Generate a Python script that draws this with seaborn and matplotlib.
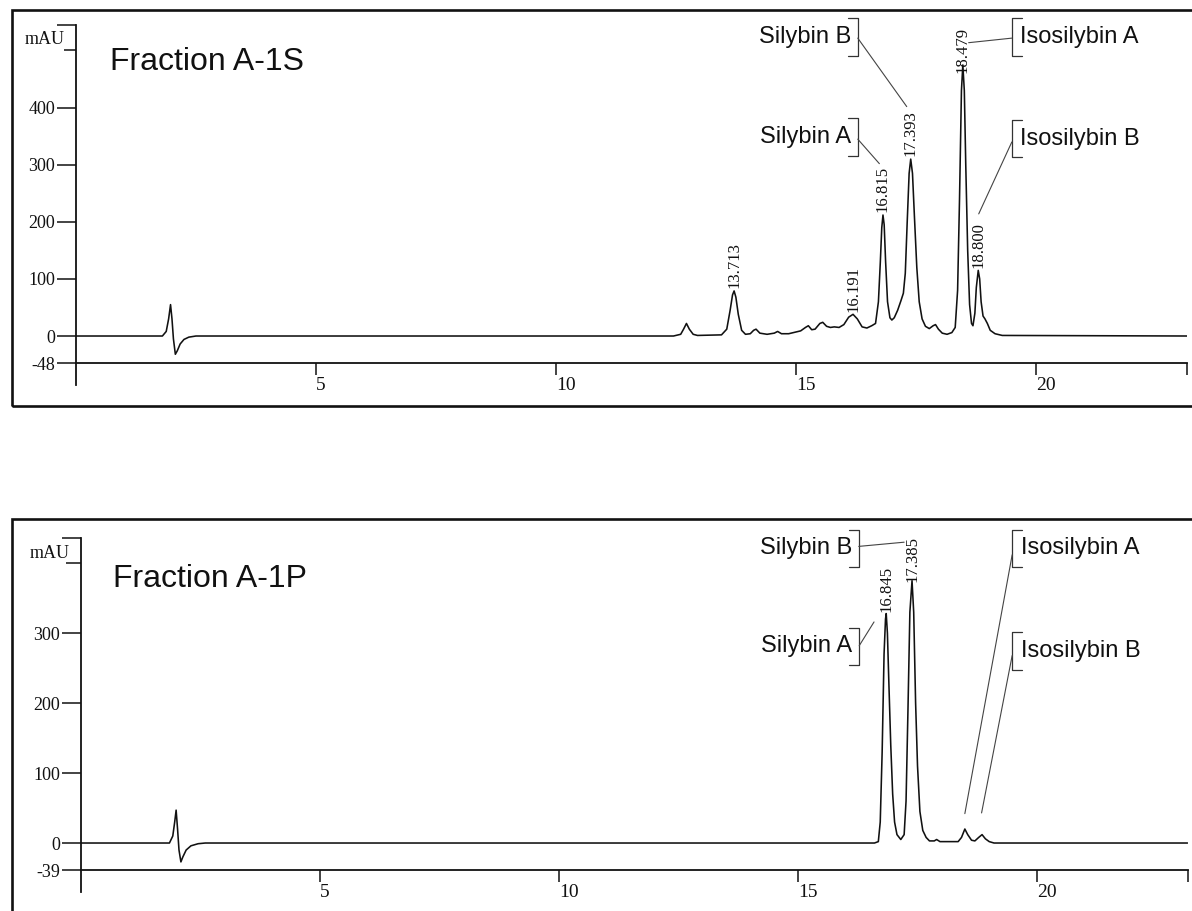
import matplotlib
matplotlib.use("Agg")
import matplotlib.pyplot as plt
import seaborn as sns
import pandas as pd
from matplotlib.patches import Rectangle

# ---------------- data ----------------
# Fraction A-1S trace: retention time (min) and absorbance (mAU)
top_time = [0.0, 1.80, 1.88, 1.93, 1.97, 2.00, 2.03, 2.07, 2.11, 2.17, 2.25, 2.35, 2.50,
            12.45, 12.60, 12.66, 12.72, 12.78, 12.86, 12.95, 13.45, 13.56, 13.63, 13.68,
            13.713, 13.75, 13.80, 13.87, 13.95, 14.05, 14.12, 14.17, 14.25, 14.40, 14.55,
            14.62, 14.70, 14.85, 15.00, 15.10, 15.20, 15.26, 15.33, 15.40, 15.50, 15.56,
            15.64, 15.72, 15.80, 15.90, 16.00, 16.10, 16.191, 16.28, 16.38, 16.48, 16.58,
            16.66, 16.72, 16.76, 16.79, 16.815, 16.84, 16.87, 16.91, 16.96, 17.00, 17.05,
            17.12, 17.19, 17.24, 17.28, 17.32, 17.36, 17.393, 17.43, 17.47, 17.52, 17.57,
            17.63, 17.70, 17.78, 17.86, 17.91, 17.97, 18.05, 18.15, 18.25, 18.32, 18.37,
            18.41, 18.45, 18.479, 18.51, 18.54, 18.58, 18.62, 18.66, 18.69, 18.73, 18.76,
            18.80, 18.83, 18.86, 18.90, 18.94, 18.99, 19.05, 19.15, 19.30, 23.15]
top_mau = [0, 0, 8, 30, 55, 30, -5, -32, -26, -14, -6, -2, 0,
           0, 3, 12, 22, 12, 3, 1, 2, 12, 45, 72,
           79, 68, 38, 10, 3, 4, 10, 12, 5, 3, 5,
           8, 4, 4, 7, 9, 15, 18, 11, 12, 22, 24,
           17, 15, 16, 15, 20, 33, 38, 30, 16, 14, 18,
           22, 60, 130, 190, 212, 195, 130, 60, 32, 28, 32,
           45, 62, 75, 110, 200, 285, 310, 285, 210, 120, 60,
           30, 17, 13, 18, 20, 12, 5, 3, 6, 15, 80,
           240, 430, 475, 430, 300, 150, 55, 22, 18, 40, 85,
           115, 100, 60, 35, 30, 22, 10, 4, 1, 0]
top_peak_rt = [13.713, 16.191, 16.815, 17.393, 18.479, 18.800]
top_peak_mau = [79, 38, 212, 310, 475, 115]
top_peak_labels = ["13.713", "16.191", "16.815", "17.393", "18.479", "18.800"]
top_yticks = [0, 100, 200, 300, 400]
top_ymin, top_ymax = -48, 545

# Fraction A-1P trace
bot_time = [0.0, 1.85, 1.92, 1.96, 1.99, 2.02, 2.05, 2.09, 2.13, 2.20, 2.30, 2.45, 2.60,
            16.60, 16.68, 16.72, 16.76, 16.80, 16.83, 16.845, 16.87, 16.90, 16.94, 16.98,
            17.02, 17.07, 17.15, 17.22, 17.26, 17.30, 17.34, 17.385, 17.42, 17.46, 17.50,
            17.55, 17.61, 17.68, 17.75, 17.85, 17.90, 17.97, 18.35, 18.42, 18.49, 18.55,
            18.63, 18.70, 18.78, 18.85, 18.92, 19.00, 19.10, 23.15]
bot_mau = [0, 0, 10, 30, 47, 20, -10, -27, -20, -10, -4, -1, 0,
           0, 2, 30, 130, 270, 320, 328, 300, 230, 140, 70,
           30, 12, 5, 12, 60, 190, 330, 375, 330, 200, 110,
           45, 18, 8, 3, 3, 5, 2, 2, 8, 20, 12,
           4, 3, 8, 12, 6, 2, 0, 0]
bot_peak_rt = [16.845, 17.385]
bot_peak_mau = [328, 375]
bot_peak_labels = ["16.845", "17.385"]
bot_yticks = [0, 100, 200, 300]
bot_ymin, bot_ymax = -39, 436

x_ticks = [5, 10, 15, 20]
x_end = 23.15
compound_names = ["Silybin B", "Silybin A", "Isosilybin A", "Isosilybin B"]
panel_titles = ["Fraction A-1S", "Fraction A-1P"]

# ---------------- layout / style ----------------
W, H = 1192, 911
sns.set_style("white")
plt.rcParams["font.family"] = ["Liberation Sans", "DejaVu Sans"]
SERIF = ["Liberation Serif", "DejaVu Serif"]
INK = "#111111"

fig = plt.figure(figsize=(W / 100, H / 100), dpi=100)

def fig_rect(x0, y0, x1, y1):
    return [x0 / W, 1 - y1 / H, (x1 - x0) / W, (y1 - y0) / H]

# outer boxes (pixel layout)
for (x0, y0, x1, y1) in [(12, 10, 1215, 406), (12, 519, 1215, 940)]:
    fig.add_artist(Rectangle((x0 / W, 1 - y1 / H), (x1 - x0) / W, (y1 - y0) / H,
                             transform=fig.transFigure, fill=False, lw=1.9,
                             edgecolor=INK, clip_on=False))

ax_top = fig.add_axes(fig_rect(76, 25, 1187, 363.4))
ax_bot = fig.add_axes(fig_rect(81, 538, 1187.6, 870.3))

# annotation layout: (side, bracket_x, center_y, half_up, half_dn, leader_start_y, leader_end_x, leader_end_y)
top_ann = [("right", 16.29, 524, 34, 34, 522, 17.31, 402),
           ("right", 16.29, 349, 33, 33, 345, 16.74, 302),
           ("left", 19.50, 524, 34, 34, 522, 18.60, 514),
           ("left", 19.50, 346, 33, 33, 340, 18.81, 214)]
bot_ann = [("right", 16.27, 421, 27, 27, 424, 17.22, 430),
           ("right", 16.28, 281, 27, 27, 282, 16.59, 316),
           ("left", 19.48, 421, 27, 27, 412, 18.49, 42),
           ("left", 19.48, 274, 27, 27, 268, 18.84, 43)]
top_label_offsets = [2, 2, 2, 2, -6, 2]
bot_label_offsets = [1, -1]

def setup_panel(ax, df, yticks, ymin, ymax, peak_rt, peak_mau, peak_labels,
                label_offsets, ann, title, title_xy, mau_y, spine_low, mau_tick_len):
    sns.lineplot(data=df, x="time", y="mAU", ax=ax, color=INK, lw=1.15,
                 estimator=None, sort=False)
    ax.set_xlim(0, x_end)
    ax.set_ylim(ymin, ymax)
    ax.set_xlabel("")
    ax.set_ylabel("")
    for s in ["top", "right"]:
        ax.spines[s].set_visible(False)
    for s in ["left", "bottom"]:
        ax.spines[s].set_color(INK)
        ax.spines[s].set_linewidth(1.3)
    ax.spines["left"].set_bounds(spine_low, ymax)
    ax.patch.set_alpha(0)
    # y ticks
    yt = list(yticks) + [ymin, ymax]
    ax.set_yticks(yt)
    ax.set_yticklabels([str(v) for v in yticks] + [str(ymin), ""],
                       fontfamily=SERIF, fontsize=13)
    ax.set_yticks([mau_y], minor=True)
    ax.tick_params(axis="y", which="major", direction="out", length=13.5, width=1.1,
                   color=INK, pad=1.5, labelcolor=INK, left=True)
    ax.tick_params(axis="y", which="minor", direction="out", length=mau_tick_len,
                   width=1.1, color=INK, left=True)
    # x ticks
    ax.set_xticks(x_ticks + [x_end])
    ax.set_xticklabels([str(v) for v in x_ticks] + [""], fontfamily=SERIF,
                       fontsize=14, ha="left")
    ax.tick_params(axis="x", direction="out", length=8.5, width=1.1, color=INK,
                   pad=1.5, labelcolor=INK, bottom=True)
    ax.grid(False)
    # mAU unit
    ax.annotate("mAU", xy=(0, mau_y), xytext=(-8, 1), textcoords="offset points",
                ha="right", va="bottom", fontfamily=SERIF, fontsize=13, color=INK,
                annotation_clip=False)
    # title
    ax.text(title_xy[0], title_xy[1], title, fontsize=23, color=INK, va="baseline",
            ha="left")
    # peak labels
    for rt, h, lbl, off in zip(peak_rt, peak_mau, peak_labels, label_offsets):
        ax.annotate(lbl, xy=(rt, h), xytext=(0, off), textcoords="offset points",
                    rotation=90, ha="center", va="bottom", fontfamily=SERIF,
                    fontsize=12, color=INK, annotation_clip=False)
    # compound labels with brackets and leader lines
    for name, (side, bx, cy, up, dn, ly, ex, ey) in zip(compound_names, ann):
        serif_len = 0.21
        if side == "right":
            xs = [bx - serif_len, bx, bx, bx - serif_len]
            ax.annotate(name, xy=(bx, cy), xytext=(-5, 0), textcoords="offset points",
                        ha="right", va="center", fontsize=17, color=INK,
                        annotation_clip=False)
        else:
            xs = [bx + serif_len, bx, bx, bx + serif_len]
            ax.annotate(name, xy=(bx, cy), xytext=(6, 0), textcoords="offset points",
                        ha="left", va="center", fontsize=17, color=INK,
                        annotation_clip=False)
        ax.plot(xs, [cy + up, cy + up, cy - dn, cy - dn], color="#333333", lw=0.9,
                clip_on=False)
        ax.plot([bx, ex], [ly, ey], color="#444444", lw=0.8, clip_on=False)

df_top = pd.DataFrame({"time": top_time, "mAU": top_mau})
df_bot = pd.DataFrame({"time": bot_time, "mAU": bot_mau})

setup_panel(ax_top, df_top, top_yticks, top_ymin, top_ymax, top_peak_rt, top_peak_mau,
            top_peak_labels, top_label_offsets, top_ann, panel_titles[0],
            (0.71, 467), 502, -86.5, 9)
setup_panel(ax_bot, df_bot, bot_yticks, bot_ymin, bot_ymax, bot_peak_rt, bot_peak_mau,
            bot_peak_labels, bot_label_offsets, bot_ann, panel_titles[1],
            (0.67, 366), 400, -70.5, 11)

fig.savefig("out.png", dpi=100)
